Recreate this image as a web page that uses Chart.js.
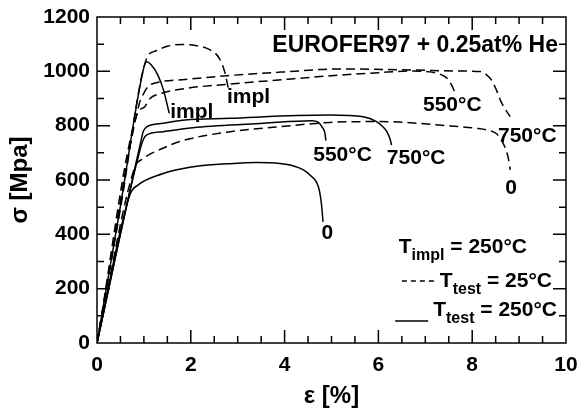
<!DOCTYPE html>
<html>
<head>
<meta charset="utf-8">
<script src="https://cdn.jsdelivr.net/npm/chart.js@4/dist/chart.umd.min.js"></script>
<style>
  html, body { margin: 0; padding: 0; background: #fff; }
  #wrap { width: 578px; height: 410px; }
</style>
</head>
<body>
<div id="wrap"><canvas id="chart" width="578" height="410"></canvas></div>
<script>
// strain [%] / stress [MPa]
const implDashStrain = [0, 0.5, 1.06, 1.25, 1.5, 1.8, 2.1, 2.4, 2.6, 2.72, 2.8];
const implDashStress = [0, 495, 1048, 1075, 1092, 1099, 1095, 1080, 1050, 1000, 937];

const implSolidStrain = [0, 0.5, 0.98, 1.05, 1.15, 1.3, 1.42, 1.54];
const implSolidStress = [0, 505, 1000, 1035, 1025, 985, 930, 845];

const dash750Strain = [0, 0.9, 1.0, 1.09, 1.38, 1.88, 2.77, 4.0, 5.18, 6.67, 7.8, 8.17, 8.3, 8.42, 8.52, 8.6, 8.7, 8.81];
const dash750Stress = [0, 880, 920, 944, 962, 970, 984, 998, 1009, 1005, 1001, 999, 988, 966, 930, 894, 862, 833];

const dash550Strain = [0, 0.85, 1.02, 1.13, 1.38, 1.88, 2.77, 4.0, 5.18, 6.0, 6.67, 7.1, 7.31, 7.46, 7.56, 7.65];
const dash550Stress = [0, 840, 870, 900, 919, 937, 952, 970, 986, 995, 1001, 998, 990, 975, 950, 915];

const dash0Strain = [0, 0.81, 0.95, 1.13, 1.38, 1.77, 2.84, 3.9, 4.97, 6.03, 7.46, 8.1, 8.31, 8.52, 8.66, 8.77, 8.81];
const dash0Stress = [0, 649, 675, 695, 715, 742, 778, 796, 812, 815, 800, 790, 784, 770, 735, 680, 637];

const solid750Strain = [0, 0.92, 0.99, 1.06, 1.41, 1.88, 2.84, 4.26, 4.97, 5.68, 5.96, 6.1, 6.18, 6.25, 6.28];
const solid750Stress = [0, 730, 780, 796, 809, 821, 827, 837, 839, 833, 815, 795, 778, 750, 729];

const solid550Strain = [0, 0.9, 0.99, 1.06, 1.41, 2.13, 3.55, 4.58, 4.72, 4.8, 4.86, 4.88];
const solid550Stress = [0, 700, 750, 766, 778, 794, 809, 818, 812, 795, 772, 745];

const solid0Strain = [0, 0.7, 0.88, 1.38, 1.98, 2.91, 3.41, 3.9, 4.12, 4.4, 4.54, 4.72, 4.78, 4.82];
const solid0Stress = [0, 545, 582, 622, 647, 661, 664, 661, 655, 637, 618, 575, 520, 446];

const xTicks = [0, 2, 4, 6, 8, 10];
const yTicks = [0, 200, 400, 600, 800, 1000, 1200];

// curve labels: text, strain, stress, alignment
const curveLabels = [
  ["impl", 1.56, 848, "left"],
  ["impl", 2.77, 903, "left"],
  ["550°C", 6.95, 876, "left"],
  ["750°C", 8.55, 762, "left"],
  ["0", 8.83, 570, "center"],
  ["550°C", 4.61, 692, "left"],
  ["750°C", 6.18, 681, "left"],
  ["0", 4.91, 403, "center"]
];

const FONT = "'Liberation Sans', Arial, Helvetica, sans-serif";

function pts(xs, ys) {
  return xs.map((x, i) => ({ x, y: ys[i] }));
}

function curve(xs, ys, dashed) {
  return {
    data: pts(xs, ys),
    borderColor: "#000",
    borderWidth: 1.5,
    borderDash: dashed ? [9, 5] : [],
    pointRadius: 0,
    showLine: true,
    fill: false,
    cubicInterpolationMode: "monotone"
  };
}

const frame = {
  id: "frame",
  afterDraw(chart) {
    const { ctx, chartArea: a, scales } = chart;
    const xs = scales.x, ys = scales.y;
    ctx.save();
    ctx.strokeStyle = "#000";
    ctx.lineWidth = 1.5;
    ctx.strokeRect(a.left, a.top, a.right - a.left, a.bottom - a.top);

    // inward ticks on all four sides
    ctx.beginPath();
    for (let v = 0.5; v < 10; v += 0.5) {
      const len = v % 2 === 0 ? 13 : 7;
      const px = xs.getPixelForValue(v);
      ctx.moveTo(px, a.bottom); ctx.lineTo(px, a.bottom - len);
      ctx.moveTo(px, a.top); ctx.lineTo(px, a.top + len);
    }
    for (let v = 100; v < 1200; v += 100) {
      const len = v % 200 === 0 ? 13 : 7;
      const py = ys.getPixelForValue(v);
      ctx.moveTo(a.left, py); ctx.lineTo(a.left + len, py);
      ctx.moveTo(a.right, py); ctx.lineTo(a.right - len, py);
    }
    ctx.stroke();

    // curve labels
    ctx.fillStyle = "#000";
    ctx.font = "bold 21px " + FONT;
    ctx.textBaseline = "middle";
    curveLabels.forEach(([t, x, y, al]) => {
      ctx.textAlign = al;
      ctx.fillText(t, xs.getPixelForValue(x), ys.getPixelForValue(y));
    });

    // title
    ctx.font = "bold 23px " + FONT;
    ctx.textAlign = "right";
    ctx.textBaseline = "alphabetic";
    ctx.fillText("EUROFER97 + 0.25at% He", a.right - 8, 52);

    // legend
    function sub(main, subTxt, rest, right, base) {
      ctx.font = "bold 21px " + FONT;
      const w1 = ctx.measureText(main).width;
      const w3 = ctx.measureText(rest).width;
      ctx.font = "bold 16px " + FONT;
      const w2 = ctx.measureText(subTxt).width;
      let x = right - w1 - w2 - w3;
      ctx.textAlign = "left";
      ctx.font = "bold 21px " + FONT;
      ctx.fillText(main, x, base);
      ctx.font = "bold 16px " + FONT;
      ctx.fillText(subTxt, x + w1, base + 7);
      ctx.font = "bold 21px " + FONT;
      ctx.fillText(rest, x + w1 + w2, base);
      return x;
    }
    sub("T", "impl", " = 250°C", 527, 253);
    const x2 = sub("T", "test", " = 25°C", 552, 287);
    const x3 = sub("T", "test", " = 250°C", 557, 316);
    ctx.lineWidth = 1.5;
    ctx.beginPath();
    ctx.setLineDash([5, 4]);
    ctx.moveTo(x2 - 38, 281); ctx.lineTo(x2 - 6, 281);
    ctx.stroke();
    ctx.setLineDash([]);
    ctx.beginPath();
    ctx.moveTo(x3 - 38, 321); ctx.lineTo(x3 - 5, 321);
    ctx.stroke();
    ctx.restore();
  }
};

function noPad(s) {
  s.paddingLeft = 0; s.paddingRight = 0; s.paddingTop = 0; s.paddingBottom = 0;
}

new Chart(document.getElementById("chart"), {
  type: "scatter",
  data: {
    datasets: [
      curve(implDashStrain, implDashStress, true),
      curve(implSolidStrain, implSolidStress, false),
      curve(dash750Strain, dash750Stress, true),
      curve(dash550Strain, dash550Stress, true),
      curve(dash0Strain, dash0Stress, true),
      curve(solid750Strain, solid750Stress, false),
      curve(solid550Strain, solid550Stress, false),
      curve(solid0Strain, solid0Stress, false)
    ]
  },
  options: {
    responsive: false,
    animation: false,
    devicePixelRatio: 1,
    layout: { padding: { top: 17, right: 12, left: 0, bottom: 0 } },
    plugins: { legend: { display: false }, tooltip: { enabled: false } },
    scales: {
      x: {
        type: "linear",
        min: 0,
        max: 10,
        afterFit: (s) => { s.height = 67; noPad(s); },
        afterBuildTicks: (s) => { s.ticks = xTicks.map((v) => ({ value: v })); },
        grid: { display: false, drawTicks: false },
        border: { display: false },
        ticks: { color: "#000", padding: 10, maxRotation: 0, font: { family: FONT, size: 21, weight: "bold" } },
        title: { display: true, text: "ε [%]", color: "#000", padding: 0, font: { family: FONT, size: 24, weight: "bold", lineHeight: 1.1 } }
      },
      y: {
        type: "linear",
        min: 0,
        max: 1200,
        afterFit: (s) => { s.width = 97; noPad(s); },
        afterBuildTicks: (s) => { s.ticks = yTicks.map((v) => ({ value: v })); },
        grid: { display: false, drawTicks: false },
        border: { display: false },
        ticks: { color: "#000", padding: 7, callback: (v) => String(v), font: { family: FONT, size: 21, weight: "bold" } },
        title: { display: true, text: "σ [Mpa]", color: "#000", padding: 6, font: { family: FONT, size: 24, weight: "bold" } }
      }
    }
  },
  plugins: [frame]
});
</script>
</body>
</html>
